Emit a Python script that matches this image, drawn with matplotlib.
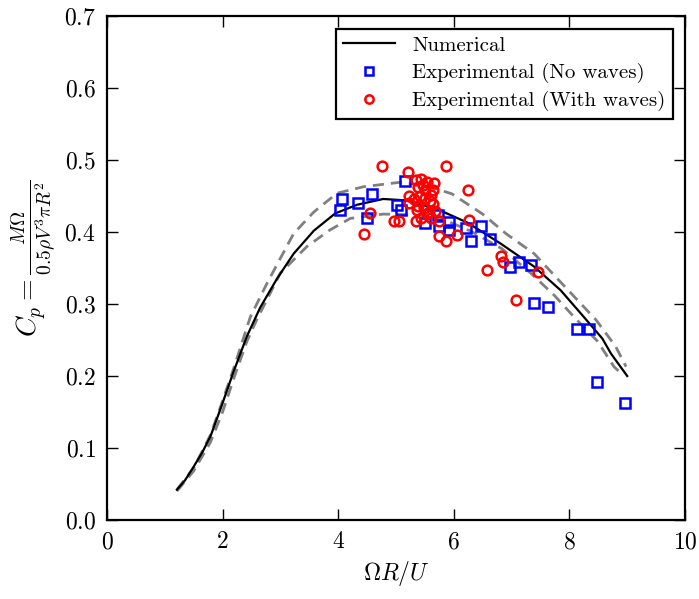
import numpy as np
import matplotlib
matplotlib.use('Agg')
import matplotlib.pyplot as plt

plt.rcParams['font.family'] = 'cmr10'
plt.rcParams['mathtext.fontset'] = 'cm'
plt.rcParams['axes.unicode_minus'] = False
plt.rcParams['axes.formatter.use_mathtext'] = True

# numerical curve (solid) and upper / lower bounds (dashed)
num_x = [1.21, 1.35, 1.50, 1.65, 1.79, 1.99, 2.19, 2.42, 2.65, 2.94, 3.23, 3.58, 3.95,
         4.33, 4.78, 5.18, 5.71, 6.24, 6.81, 7.39, 7.85, 8.25, 8.57, 8.72, 9.00]
num_y = [0.042, 0.055, 0.074, 0.094, 0.116, 0.160, 0.206, 0.255, 0.295, 0.335, 0.370, 0.402, 0.426,
         0.438, 0.446, 0.444, 0.432, 0.413, 0.384, 0.352, 0.319, 0.282, 0.252, 0.231, 0.200]

up_x = [1.21, 1.50, 1.79, 1.99, 2.19, 2.48, 2.77, 3.23, 3.58, 3.98, 4.44, 5.05, 5.51, 5.97,
        6.50, 6.90, 7.39, 7.76, 8.11, 8.46, 8.80, 8.98]
up_y = [0.042, 0.072, 0.118, 0.163, 0.210, 0.282, 0.329, 0.398, 0.428, 0.454, 0.463, 0.469, 0.465, 0.453,
        0.425, 0.398, 0.370, 0.338, 0.308, 0.278, 0.241, 0.213]

lo_x = [1.21, 1.50, 1.79, 2.00, 2.20, 2.42, 2.59, 3.00, 3.46, 3.86, 4.21, 4.78, 5.31, 5.84,
        6.30, 6.83, 7.33, 7.74, 8.08, 8.49, 8.77, 8.89]
lo_y = [0.040, 0.068, 0.108, 0.150, 0.198, 0.248, 0.278, 0.343, 0.380, 0.403, 0.419, 0.425, 0.424, 0.417,
        0.401, 0.377, 0.343, 0.312, 0.282, 0.248, 0.213, 0.204]

# experimental, no waves
nw_x = [4.07, 4.03, 4.34, 4.58, 4.50, 5.01, 5.09, 5.15, 5.50, 5.74, 5.72, 5.91, 5.91,
        6.21, 6.47, 6.29, 6.62, 6.97, 7.13, 7.33, 7.38, 7.63, 8.13, 8.34, 8.48, 8.97]
nw_y = [0.446, 0.431, 0.441, 0.453, 0.420, 0.438, 0.430, 0.471, 0.413, 0.409, 0.424, 0.414, 0.403,
        0.406, 0.408, 0.387, 0.390, 0.351, 0.358, 0.354, 0.302, 0.296, 0.265, 0.266, 0.192, 0.162]

# experimental, with waves
ww_x = [4.75, 5.87, 5.21, 6.25, 5.64, 4.55, 4.45, 4.96, 5.06, 5.34, 5.23, 5.23, 5.74,
        6.26, 5.74, 5.86, 6.06, 6.82, 6.85, 6.57, 7.46, 7.07,
        5.34, 5.44, 5.54, 5.38, 5.51, 5.41, 5.58, 5.64, 5.48, 5.68, 5.38, 5.54, 5.61,
        5.44, 5.31, 5.47, 5.60, 5.50, 5.36, 5.66, 5.57]
ww_y = [0.492, 0.492, 0.483, 0.459, 0.459, 0.427, 0.397, 0.416, 0.416, 0.416, 0.450, 0.441, 0.415,
        0.417, 0.394, 0.388, 0.396, 0.367, 0.358, 0.347, 0.344, 0.306,
        0.472, 0.474, 0.469, 0.462, 0.458, 0.450, 0.443, 0.439, 0.434, 0.429, 0.436, 0.425, 0.420,
        0.420, 0.446, 0.466, 0.452, 0.447, 0.430, 0.468, 0.428]

fig = plt.figure(figsize=(6.99, 5.99), dpi=100)
ax = fig.add_axes([0.153, 0.132, 0.827, 0.841])

ax.plot(up_x, up_y, color='gray', lw=2, ls=(0, (4, 2.5)))
ax.plot(lo_x, lo_y, color='gray', lw=2, ls=(0, (4, 2.5)))
ax.plot(num_x, num_y, color='black', lw=1.6, label='Numerical')
ax.plot(nw_x, nw_y, 's', mfc='none', mec='blue', mew=1.8, ms=7, label='Experimental (No waves)')
ax.plot(ww_x, ww_y, 'o', mfc='none', mec='red', mew=1.8, ms=7, label='Experimental (With waves)')

ax.set_xlim(0, 10)
ax.set_ylim(0, 0.7)
ax.set_xticks([0, 2, 4, 6, 8, 10])
ax.set_yticks(np.arange(0, 0.71, 0.1))
ax.set_xticklabels(['$0$', '$2$', '$4$', '$6$', '$8$', '$10$'])
ax.set_yticklabels(['$%.1f$' % v for v in np.arange(0, 0.71, 0.1)])
ax.tick_params(direction='in', top=True, right=True, length=8, width=1, labelsize=17, pad=8)
for s in ax.spines.values():
    s.set_linewidth(1.6)

ax.set_xlabel(r'$\Omega R/U$', fontsize=17)
ax.set_ylabel(r'$C_p = \frac{M\Omega}{0.5\rho V^3\pi R^2}$', fontsize=20)
ax.yaxis.set_label_coords(-0.087, 0.52)

leg = ax.legend(loc='upper right', fontsize=15, fancybox=False, numpoints=1,
                framealpha=1, edgecolor='black', borderaxespad=0.6, handlelength=2.5,
                borderpad=0.35, labelspacing=0.4)
leg.get_frame().set_linewidth(1.6)
for h in leg.legend_handles[1:]:
    h.set_markersize(6)

fig.savefig('out.png', dpi=100)
